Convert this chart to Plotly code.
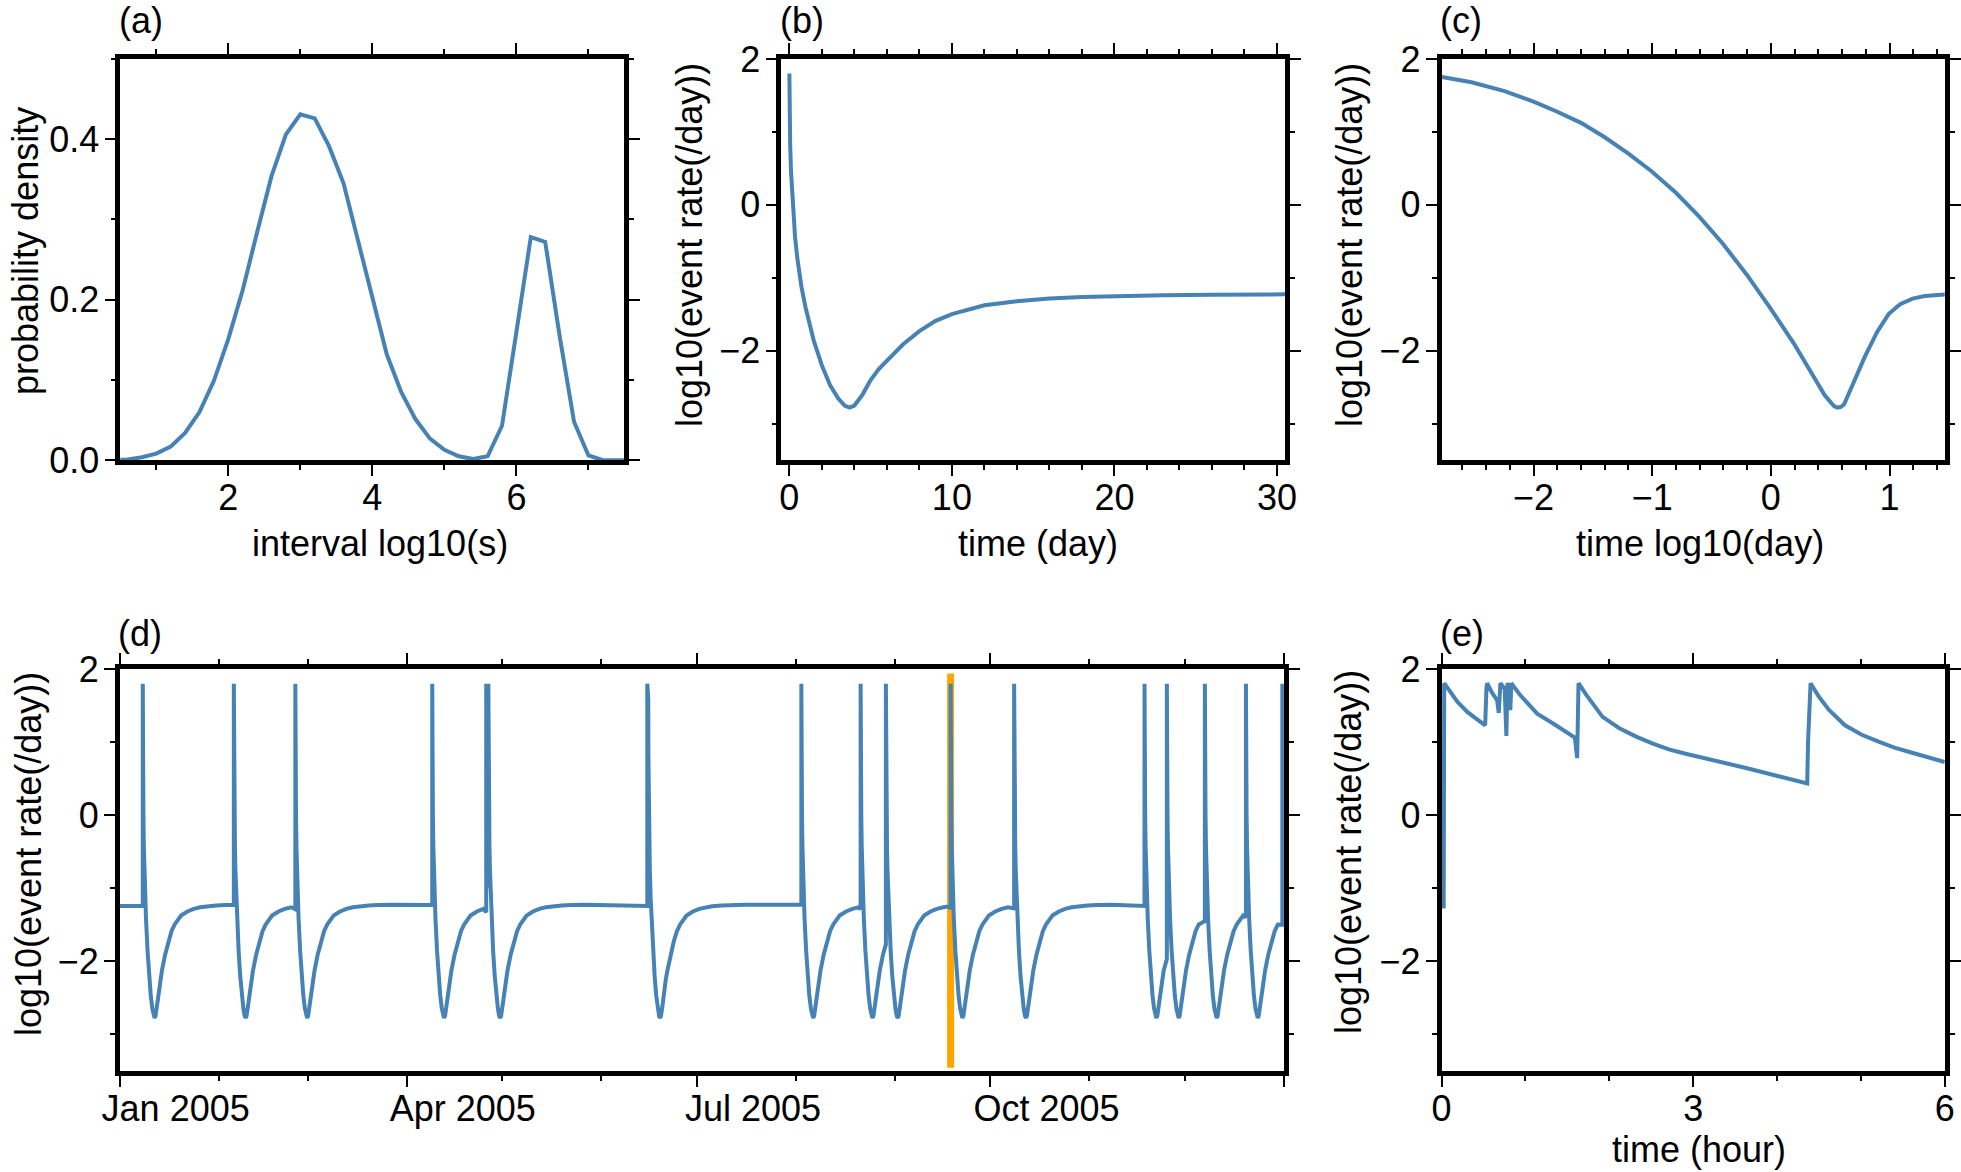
import pandas as pd
import plotly.graph_objects as go

W, H = 1961, 1172
FONT = "Liberation Sans, Arial, Helvetica, sans-serif"
FS = 36
BLUE = "#4682b4"
ORANGE = "#ffa500"

# ---------------- data ----------------
# (a) probability density of inter-event interval
A_LOG_INTERVAL = [0.4, 0.6, 0.8, 1.0, 1.2, 1.4, 1.6, 1.8, 2.0, 2.2, 2.4, 2.6, 2.8, 3.0, 3.2,
                  3.4, 3.6, 3.8, 4.0, 4.2, 4.4, 4.6, 4.8, 5.0, 5.2, 5.4, 5.6, 5.8, 6.0, 6.2,
                  6.4, 6.6, 6.8, 7.0, 7.2, 7.4, 7.6]
A_DENSITY = [0.0, 0.001, 0.0037, 0.0082, 0.017, 0.034, 0.060, 0.099, 0.151, 0.212, 0.284,
             0.354, 0.406, 0.431, 0.426, 0.391, 0.345, 0.273, 0.205, 0.132, 0.085, 0.051,
             0.027, 0.013, 0.005, 0.0016, 0.005, 0.043, 0.160, 0.278, 0.272, 0.155, 0.048,
             0.006, 0.0, 0.0, 0.0]

# (b) event-rate response after one event, linear time (day)
SPIKE_TOP = 1.8
B_DAY = [0.0, 0.005, 0.05, 0.1, 0.2, 0.35, 0.5, 0.75, 1.0, 1.5, 2.0, 2.5, 3.0, 3.4, 3.7,
         4.0, 4.5, 5.0, 5.5, 6.0, 7.0, 8.0, 9.0, 10.0, 12.0, 14.0, 16.0, 18.0, 20.0, 23.0,
         26.0, 30.5]
B_LOG_RATE = [1.8, 1.59, 0.82, 0.458, 0.01, -0.44, -0.75, -1.13, -1.41, -1.86, -2.2, -2.47,
              -2.65, -2.75, -2.778, -2.75, -2.6, -2.40, -2.25, -2.13, -1.91, -1.73, -1.59,
              -1.497, -1.375, -1.32, -1.283, -1.262, -1.249, -1.237, -1.231, -1.226]

# (c) the same response, time in log10(day)
C_LOG_DAY = [-2.772, -2.522, -2.244, -2.0, -1.8, -1.6, -1.403, -1.203, -1.003, -0.8,
             -0.606, -0.406, -0.203, -0.008, 0.194, 0.394, 0.45, 0.506, 0.535, 0.561, 0.59,
             0.617, 0.653, 0.70, 0.792, 0.894, 0.992, 1.089, 1.194, 1.297, 1.394, 1.484]
C_LOG_RATE = [1.753, 1.681, 1.560, 1.416, 1.276, 1.124, 0.930, 0.706, 0.458, 0.166,
              -0.157, -0.530, -0.957, -1.407, -1.901, -2.463, -2.60, -2.71, -2.76, -2.778,
              -2.77, -2.733, -2.60, -2.40, -2.08, -1.744, -1.497, -1.362, -1.285, -1.249,
              -1.231, -1.226]

# (d) event times during 2005 and the rate level just before each event
D_START, D_END = "2005-01-01", "2006-01-01"
D_TICKS = ["2005-01-01", "2005-04-01", "2005-07-01", "2005-10-01", "2006-01-01"]
D_TICK_TEXT = ["Jan 2005", "Apr 2005", "Jul 2005", "Oct 2005", ""]
D_EVENTS = ["2005-01-08 06:00", "2005-02-05 19:00", "2005-02-25 02:00", "2005-04-09 00:00",
            "2005-04-25 22:00", "2005-04-26 14:00", "2005-06-15 10:00", "2005-06-15 17:00",
            "2005-08-02 17:00", "2005-08-21 07:00", "2005-08-29 05:00", "2005-09-18 12:00",
            "2005-10-08 10:00", "2005-11-18 07:00", "2005-11-25 07:00", "2005-12-07 05:00",
            "2005-12-20 02:00", "2005-12-31 12:00"]
D_PRE_LEVEL = [-1.243, -1.228, -1.29, -1.23, -1.33, -1.0, -1.243, -0.3, -1.228, -1.29,
               -1.77, -1.29, -1.277, -1.243, -1.97, -1.45, -1.40, -1.50]
ORANGE_DATE = "2005-09-18 12:00"
ORANGE_RATE = [-3.46, 1.94]

# (e) first six hours after the highlighted event
E_HOURS = [0.025, 0.032, 0.09, 0.19, 0.31, 0.43, 0.52, 0.536, 0.544, 0.60, 0.663, 0.682,
           0.702, 0.753, 0.773, 0.785, 0.809, 0.82, 0.832, 0.94, 1.14, 1.33, 1.59, 1.617,
           1.633, 1.73, 1.92, 2.12, 2.32, 2.52, 2.71, 2.91, 3.23, 3.63, 4.02, 4.36, 4.37,
           4.40, 4.50, 4.62, 4.81, 5.01, 5.21, 5.40, 5.60, 5.80, 6.0]
E_LOG_RATE = [-1.28, 1.806, 1.71, 1.55, 1.41, 1.31, 1.23, 1.75, 1.806, 1.68, 1.571, 1.40,
              1.806, 1.729, 1.083, 1.806, 1.752, 1.436, 1.806, 1.64, 1.39, 1.255, 1.06, 0.78,
              1.806, 1.64, 1.345, 1.19, 1.075, 0.98, 0.90, 0.84, 0.758, 0.646, 0.533, 0.433,
              1.0, 1.806, 1.62, 1.44, 1.23, 1.10, 1.006, 0.925, 0.858, 0.795, 0.727]

# ---------------- build (d) series from the read event list ----------------
events = [pd.Timestamp(s) for s in D_EVENTS]
d_x = [pd.Timestamp(D_START)]
d_y = [D_PRE_LEVEL[0]]
for i, ev in enumerate(events):
    d_x += [ev, ev]
    d_y += [D_PRE_LEVEL[i], SPIKE_TOP]
    nxt = events[i + 1] if i + 1 < len(events) else None
    for day, r in zip(B_DAY[1:], B_LOG_RATE[1:]):
        t = ev + pd.Timedelta(days=day)
        if nxt is not None and t >= nxt:
            break
        d_x.append(t)
        d_y.append(r)

# ---------------- layout helpers ----------------
LW = 4.5

def dom_x(l, r):
    return [(l + LW / 2) / W, (r - LW / 2) / W]

def dom_y(t, b):
    return [1 - (b - LW / 2) / H, 1 - (t + LW / 2) / H]

def axis(dom, rng, dtick, mdtick, tick0=0, standoff=0, **kw):
    d = dict(domain=dom, range=rng, dtick=dtick, tick0=tick0, showline=True, linewidth=LW,
             linecolor="black", mirror="ticks", ticks="outside", ticklen=11, tickwidth=2,
             tickcolor="black", showgrid=False, zeroline=False, automargin=False,
             ticklabelstandoff=standoff,
             tickfont=dict(family=FONT, size=FS, color="black"),
             minor=dict(ticks="outside", ticklen=5, tickwidth=2, tickcolor="black",
                        dtick=mdtick, tick0=tick0, showgrid=False))
    d.update(kw)
    return d

XS, YS = -9, -2  # label standoffs for x and y axes

ROW1 = (56.7, 462.5)
ROW2 = (666.8, 1073.0)
COLA = (118.0, 626.7)
COLB = (779.0, 1287.3)
COLC = (1439.3, 1947.0)
COLD = (117.4, 1286.2)

fig = go.Figure()
line = dict(color=BLUE, width=4)
fig.add_trace(go.Scatter(x=A_LOG_INTERVAL, y=A_DENSITY, mode="lines", line=line, xaxis="x", yaxis="y"))
fig.add_trace(go.Scatter(x=B_DAY, y=B_LOG_RATE, mode="lines", line=line, xaxis="x2", yaxis="y2"))
fig.add_trace(go.Scatter(x=C_LOG_DAY, y=C_LOG_RATE, mode="lines", line=line, xaxis="x3", yaxis="y3"))
fig.add_trace(go.Scatter(x=[ORANGE_DATE, ORANGE_DATE], y=ORANGE_RATE, mode="lines",
                         line=dict(color=ORANGE, width=7), xaxis="x4", yaxis="y4"))
fig.add_trace(go.Scatter(x=d_x, y=d_y, mode="lines", line=line, xaxis="x4", yaxis="y4"))
fig.add_trace(go.Scatter(x=E_HOURS, y=E_LOG_RATE, mode="lines", line=line, xaxis="x5", yaxis="y5"))

rate_y = lambda dom, anchor: axis(dom, [-3.5, 2], 2, 1, anchor=anchor, standoff=YS)

fig.update_layout(
    width=W, height=H, margin=dict(l=0, r=0, t=0, b=0, pad=0, autoexpand=False),
    showlegend=False, paper_bgcolor="white", plot_bgcolor="white",
    font=dict(family=FONT, size=FS, color="black"),
    xaxis=axis(dom_x(*COLA), [0.5, 7.5], 2, 1, anchor="y", standoff=XS),
    yaxis=axis(dom_y(*ROW1), [0, 0.5], 0.2, 0.1, anchor="x", tickformat=".1f", standoff=YS),
    xaxis2=axis(dom_x(*COLB), [-0.5, 30.5], 10, 2, anchor="y2", standoff=XS),
    yaxis2=rate_y(dom_y(*ROW1), "x2"),
    xaxis3=axis(dom_x(*COLC), [-2.775, 1.465], 1, 0.2, anchor="y3", standoff=XS),
    yaxis3=rate_y(dom_y(*ROW1), "x3"),
    xaxis4=axis(dom_x(*COLD), [D_START, D_END], None, "M1", tick0="2005-01-01",
                anchor="y4", type="date", tickmode="array", tickvals=D_TICKS,
                ticktext=D_TICK_TEXT, ticklabelshift=56, standoff=XS),
    yaxis4=rate_y(dom_y(*ROW2), "x4"),
    xaxis5=axis(dom_x(*COLC), [0, 6], 3, 1, anchor="y5", standoff=XS),
    yaxis5=rate_y(dom_y(*ROW2), "x5"),
)

def ann(text, x, y, angle=0, xanchor="center", yanchor="middle"):
    fig.add_annotation(text=text, x=x / W, y=1 - y / H, xref="paper", yref="paper",
                       showarrow=False, textangle=angle, xanchor=xanchor, yanchor=yanchor,
                       font=dict(family=FONT, size=FS, color="black"))

# panel labels
for lab, x, y in [("(a)", 117, 21), ("(b)", 778, 21), ("(c)", 1438, 21),
                  ("(d)", 116, 633), ("(e)", 1438, 633)]:
    ann(lab, x, y, xanchor="left")
# x titles
ann("interval log10(s)", 380, 543)
ann("time (day)", 1038, 543)
ann("time log10(day)", 1700, 543)
ann("time (hour)", 1699, 1172, yanchor="bottom")
# y titles
ann("probability density", 25, 251, -90)
ann("log10(event rate(/day))", 689, 245, -90)
ann("log10(event rate(/day))", 1349, 245, -90)
ann("log10(event rate(/day))", 28, 854, -90)
ann("log10(event rate(/day))", 1348, 852, -90)

fig.write_html("out.html", config={"displayModeBar": False},
               post_script="document.body.style.margin='0px';")
